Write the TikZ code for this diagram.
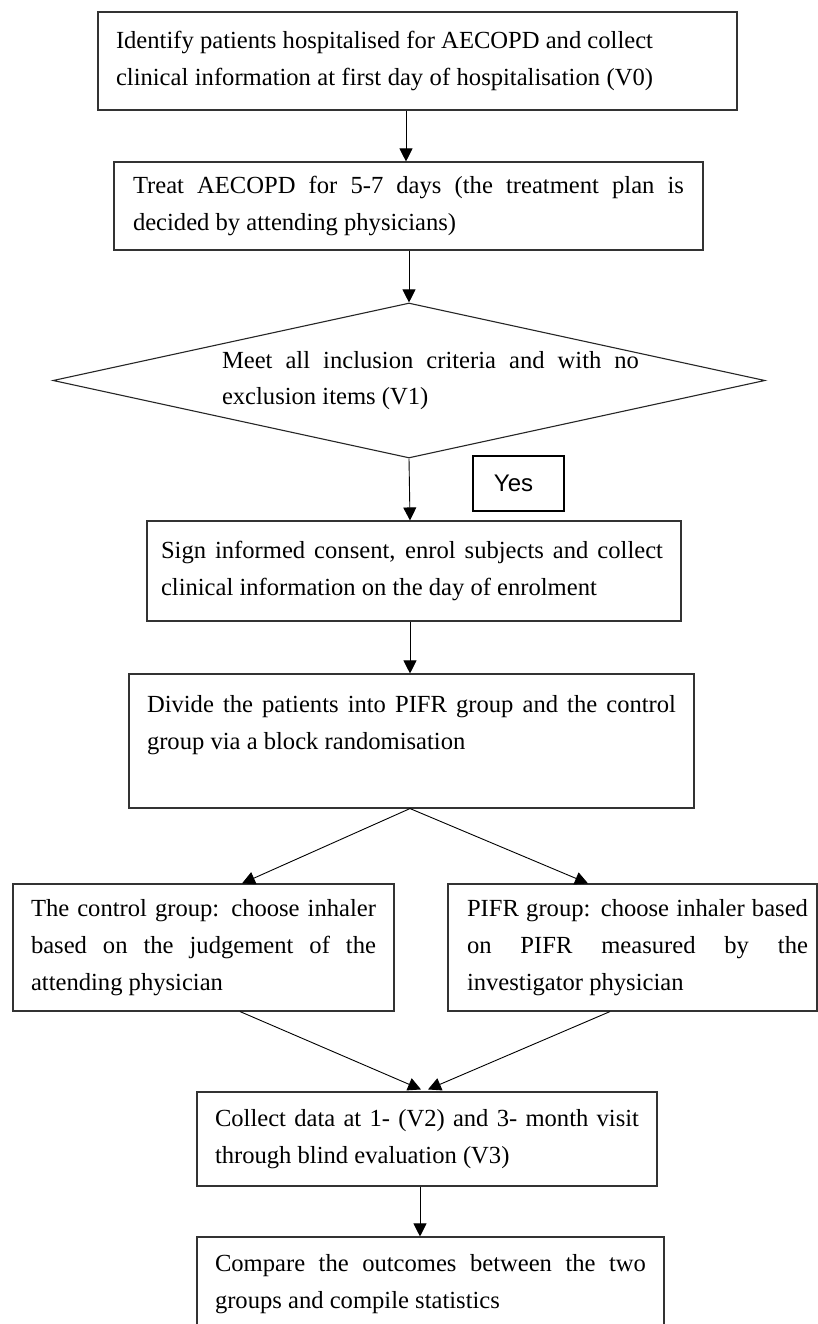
\documentclass[tikz,border=0pt]{standalone}
\usepackage{fontspec}
\setmainfont{Liberation Serif}
\newfontfamily\yesfont{Liberation Sans}
\usetikzlibrary{shapes.geometric,arrows.meta,calc}
\newcommand{\jline}[2]{\makebox[#1][s]{\spaceskip=0pt\xspaceskip=0pt\relax #2}}
\newcommand{\nline}[1]{\mbox{\spaceskip=0pt\xspaceskip=0pt\relax #1}}
\begin{document}
\begin{tikzpicture}[x=1pt,y=-1pt,
  box/.style={draw=black!80, line width=1.1pt, rectangle, inner ysep=0pt, align=flush left,
    font=\fontsize{24.6}{37}\selectfont},
  decision/.style={draw=black!85, line width=1.1pt, diamond, aspect=4.6, inner xsep=0pt,
    inner ysep=-25pt, align=flush left, font=\fontsize{24.6}{37}\selectfont},
  yesbox/.style={draw=black, line width=2pt, rectangle, inner sep=0pt,
    font=\yesfont\fontsize{24}{28}\selectfont},
  arr/.style={draw=black, line width=0.9pt, -{Triangle[length=13pt,width=13pt]}}]
\useasboundingbox (0,0) rectangle (818,1324);
\clip (0,0) rectangle (818,1324);
\fill[white] (0,0) rectangle (818,1324);

\node[box, minimum width=639pt, minimum height=98pt, inner xsep=18pt, text width=603pt] (b1) at (417.5,61)
  {\jline{537pt}{Identify patients hospitalised for AECOPD and collect}\\
   \jline{537pt}{clinical information at first day of hospitalisation (V0)}};

\node[box, minimum width=589pt, minimum height=88pt, inner xsep=19pt, text width=551pt] (b2) at (408.5,206)
  {\jline{551pt}{Treat AECOPD for 5-7 days (the treatment plan is}\\
   \nline{decided by attending physicians)}};

\node[decision, minimum width=712pt, minimum height=155pt, text width=460pt] (d) at (409,380.5)
  {\hspace*{43pt}\jline{417pt}{Meet all inclusion criteria and with no}\\[-1pt]
   \hspace*{43pt}\nline{exclusion items (V1)}};

\node[yesbox, minimum width=91pt, minimum height=55pt] (yes) at (518.5,483.5) {Yes\hspace*{10pt}};

\node[box, minimum width=534pt, minimum height=100pt, inner xsep=14pt, text width=506pt] (b3) at (414,571)
  {\jline{502pt}{Sign informed consent, enrol subjects and collect}\\
   \nline{clinical information on the day of enrolment}};

\node[box, minimum width=565pt, minimum height=134pt, inner xsep=18pt, text width=529pt] (b4) at (411.5,741)
  {\jline{529pt}{Divide the patients into PIFR group and the control}\\
   \nline{group via a block randomisation}\\ \mbox{}};

\node[box, minimum width=381pt, minimum height=127pt, inner xsep=18pt, text width=345pt] (bl) at (203.5,947.5)
  {\jline{345pt}{The control group: choose inhaler}\\
   \jline{345pt}{based on the judgement of the}\\
   \nline{attending physician}};

\node[box, minimum width=369pt, minimum height=127pt, inner xsep=8pt, text width=353pt] (br) at (632.5,947.5)
  {\hspace*{11pt}\jline{341pt}{PIFR group: choose inhaler based}\\
   \hspace*{11pt}\jline{341pt}{on PIFR measured by the}\\
   \hspace*{11pt}\nline{investigator physician}};

\node[box, minimum width=460pt, minimum height=94pt, inner xsep=18pt, text width=424pt] (b5) at (427,1139)
  {\jline{424pt}{Collect data at 1- (V2) and 3- month visit}\\
   \nline{through blind evaluation (V3)}};

\node[box, minimum width=467pt, minimum height=94pt, inner xsep=18pt, text width=431pt] (b6) at (430.5,1284)
  {\jline{431pt}{Compare the outcomes between the two}\\
   \nline{groups and compile statistics}};

\draw[arr] ($(b1.south)+(-11.5,0)$) -- ($(b2.north)+(-2.5,0)$);
\draw[arr] ($(b2.south)+(0.5,0)$) -- (d.north);
\draw[arr] (d.south) -- ($(b3.north)+(-4,0)$);
\draw[arr] ($(b3.south)+(-4,0)$) -- ($(b4.north)+(-1.5,0)$);
\draw[arr] ($(b4.south)+(-1.5,0)$) -- ($(bl.north)+(38.5,0)$);
\draw[arr] ($(b4.south)+(-1.5,0)$) -- ($(br.north)+(-44.5,0)$);
\draw[arr] ($(bl.south)+(36.5,0)$) -- ($(b5.north)+(-6,-2)$);
\draw[arr] ($(br.south)+(-22.5,0)$) -- ($(b5.north)+(1,-2)$);
\draw[arr] ($(b5.south)+(-7,0)$) -- ($(b6.north)+(-10.5,0)$);
\end{tikzpicture}
\end{document}
